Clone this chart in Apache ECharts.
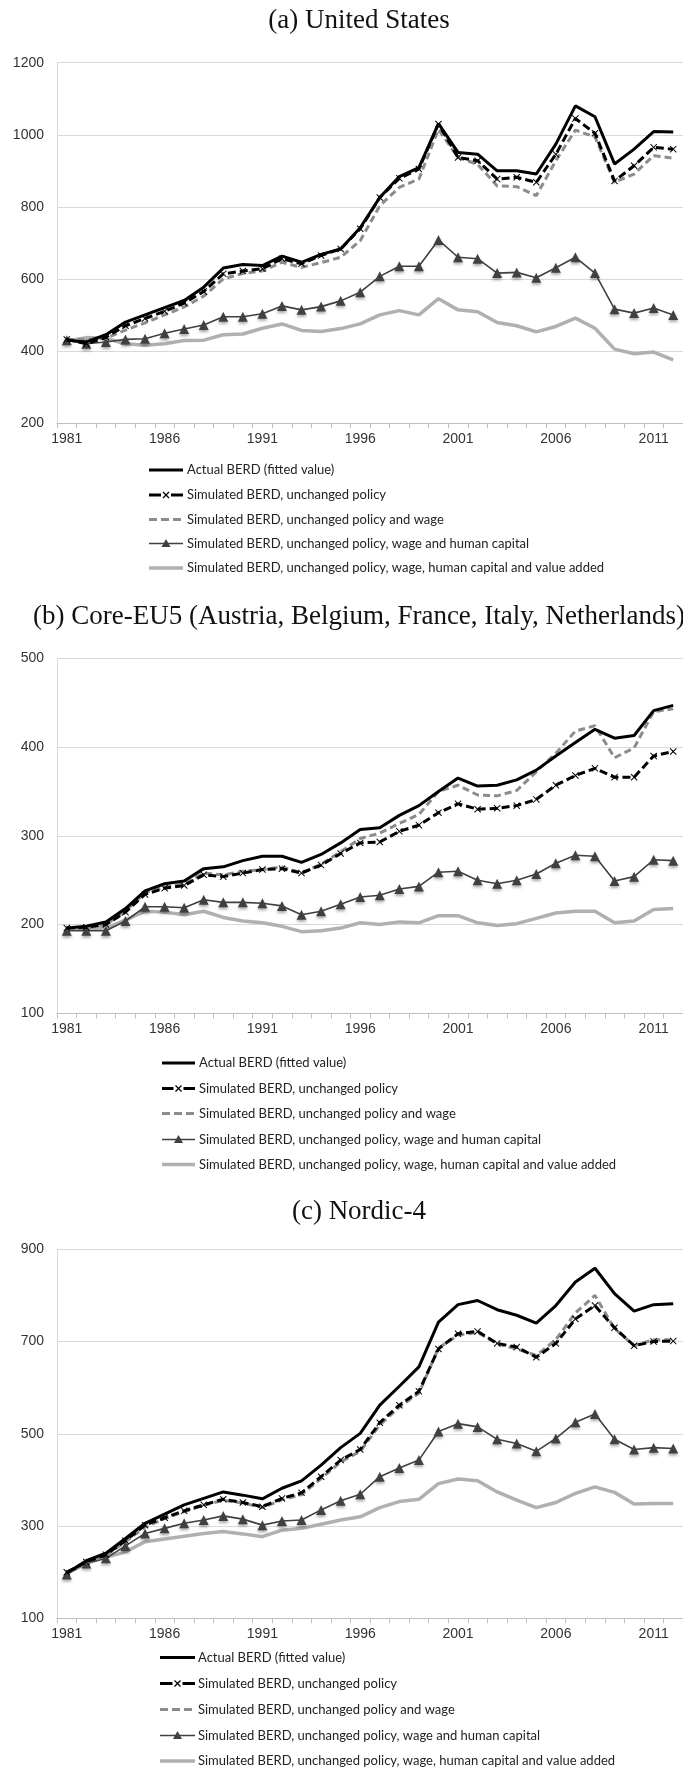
<!DOCTYPE html>
<html>
<head>
<meta charset="utf-8">
<script src="https://cdn.jsdelivr.net/npm/echarts@6/dist/echarts.min.js"></script>
<style>
html,body{margin:0;padding:0;background:#fff;overflow:hidden;}
#chart{width:683px;height:1769px;}
</style>
</head>
<body>
<div id="chart"></div>
<script>
const years = ['1981','1982','1983','1984','1985','1986','1987','1988','1989','1990','1991','1992','1993','1994','1995','1996','1997','1998','1999','2000','2001','2002','2003','2004','2005','2006','2007','2008','2009','2010','2011','2012'];

const seriesNames = [
  'Actual BERD (fitted value)',
  'Simulated BERD, unchanged policy',
  'Simulated BERD, unchanged policy and wage',
  'Simulated BERD, unchanged policy, wage and human capital',
  'Simulated BERD, unchanged policy, wage, human capital and value added'
];

const panelTitles = ['(a) United States', '(b) Core-EU5 (Austria, Belgium, France, Italy, Netherlands)', '(c) Nordic-4'];

// (a) United States
const usActual    = [430,425,445,480,500,520,540,577,630,640,637,663,646,668,683,742,826,884,909,1031,951,946,900,900,891,974,1080,1050,919,960,1009,1008];
const usUnchanged = [432,420,438,470,490,510,533,565,614,622,628,656,642,665,683,739,826,879,905,1030,937,928,877,882,868,946,1045,1004,872,914,965,960];
const usWage      = [432,432,435,458,478,500,522,552,600,615,622,646,632,645,660,706,803,854,877,1015,937,918,858,856,831,928,1013,994,868,891,942,935];
const usHuman     = [430,420,425,432,434,449,461,472,495,495,503,525,514,523,539,563,607,635,635,708,660,656,616,618,603,631,660,616,516,505,519,500];
const usVA        = [428,437,435,420,416,420,429,430,445,447,463,475,457,454,462,475,500,512,500,545,514,509,479,470,453,468,491,463,405,392,397,375];

// (b) Core-EU5
const euActual    = [196,198,203,218,238,246,249,263,265,272,277,277,270,279,292,307,309,323,334,350,365,356,357,363,374,390,405,420,410,413,441,447];
const euUnchanged = [196,197,200,214,234,241,244,256,254,258,262,263,258,267,280,292,293,305,312,326,336,330,331,334,341,357,368,376,366,366,390,395];
const euWage      = [195,196,200,215,236,242,246,258,256,260,262,265,258,268,282,297,303,314,324,350,357,346,345,351,372,393,418,424,388,399,440,443];
const euHuman     = [193,193,193,204,220,220,219,228,225,225,224,221,211,215,223,231,233,240,243,259,260,250,246,250,257,269,278,277,249,254,273,272];
const euVA        = [195,195,196,205,215,214,211,215,208,204,202,198,192,193,196,202,200,203,202,210,210,202,199,201,207,213,215,215,202,204,217,218];

// (c) Nordic-4
const noActual    = [198,225,241,273,306,326,346,360,374,367,359,382,398,432,470,501,562,603,645,742,780,789,769,757,740,778,829,859,804,766,780,782];
const noUnchanged = [200,222,238,268,302,318,333,346,358,351,342,360,372,407,443,466,524,562,592,684,717,722,696,688,666,696,749,778,730,691,700,701];
const noWage      = [198,220,236,266,298,316,331,345,356,350,340,357,368,403,439,462,519,558,588,686,714,720,695,684,670,704,762,800,728,691,704,704];
const noHuman     = [195,219,230,257,284,295,306,313,322,315,302,311,313,335,355,369,407,426,443,505,522,515,488,479,462,490,525,543,488,466,470,468];
const noVA        = [198,220,232,244,266,272,278,284,288,283,277,291,295,304,313,320,340,353,358,392,402,398,374,356,340,351,371,385,373,348,349,349];

const yMin = [200, 100, 100];
const yMax = [1200, 500, 900];
const yStep = [200, 100, 200];

const panels = [
  [usActual, usUnchanged, usWage, usHuman, usVA],
  [euActual, euUnchanged, euWage, euHuman, euVA],
  [noActual, noUnchanged, noWage, noHuman, noVA]
];

// layout
const gridTop = [62.7, 658.3, 1249.3];
const gridHeight = [360.3, 355, 369];
const titleY = [21, 617, 1212];
const legendX = [[149, 183, 187], [162, 195, 199], [160, 195, 198]];
const legendY = [[470, 495, 519.5, 543.5, 568], [1063, 1088.5, 1113.5, 1139.5, 1164.5], [1657.5, 1683.5, 1709.5, 1735.5, 1761]];

const X_PATH = 'path://M0,1L1,0L5,4L9,0L10,1L6,5L10,9L9,10L5,6L1,10L0,9L4,5Z';

const grids = [], xAxes = [], yAxes = [], series = [], graphics = [];

for (let p = 0; p < 3; p++) {
  grids.push({left: 57, width: 632, top: gridTop[p], height: gridHeight[p], containLabel: false});
  xAxes.push({
    type: 'category', gridIndex: p, data: years, boundaryGap: true,
    axisLine: {lineStyle: {color: '#bfbfbf', width: 1}},
    axisTick: {show: true, interval: 0, length: 5, lineStyle: {color: '#bfbfbf'}},
    axisLabel: {interval: 4, fontFamily: 'Liberation Sans', fontSize: 14, color: '#333', margin: 9},
    splitLine: {show: false}
  });
  yAxes.push({
    type: 'value', gridIndex: p, min: yMin[p], max: yMax[p], interval: yStep[p],
    axisLine: {show: true, lineStyle: {color: '#d9d9d9', width: 1}},
    axisTick: {show: false},
    axisLabel: {fontFamily: 'Liberation Sans', fontSize: 14, color: '#333', margin: 13, formatter: function (v) { return String(v); }},
    splitLine: {lineStyle: {color: '#d9d9d9', width: 1}}
  });
  const d = panels[p];
  // draw order: value added, human capital, wage, unchanged, actual
  series.push({
    name: seriesNames[4], type: 'line', xAxisIndex: p, yAxisIndex: p, data: d[4],
    symbol: 'none', lineStyle: {color: '#b0b0b0', width: 3.5}, z: 2
  });
  series.push({
    name: seriesNames[3], type: 'line', xAxisIndex: p, yAxisIndex: p, data: d[3],
    symbol: 'triangle', symbolSize: 10, showAllSymbol: true,
    lineStyle: {color: '#404040', width: 1.6},
    itemStyle: {color: '#404040', shadowBlur: 3, shadowColor: 'rgba(0,0,0,0.35)', shadowOffsetY: 2}, z: 3
  });
  series.push({
    name: seriesNames[2], type: 'line', xAxisIndex: p, yAxisIndex: p, data: d[2],
    symbol: 'none', lineStyle: {color: '#8c8c8c', width: 3, type: [7, 4]}, z: 4
  });
  series.push({
    name: seriesNames[1], type: 'line', xAxisIndex: p, yAxisIndex: p, data: d[1],
    symbol: X_PATH, symbolSize: 7, showAllSymbol: true,
    lineStyle: {color: '#000', width: 3, type: [8, 4]},
    itemStyle: {color: '#000'}, z: 5
  });
  series.push({
    name: seriesNames[0], type: 'line', xAxisIndex: p, yAxisIndex: p, data: d[0],
    symbol: 'none', lineStyle: {color: '#000', width: 3}, z: 6
  });

  // title
  graphics.push({
    type: 'text', x: 359, y: titleY[p],
    style: {text: panelTitles[p], font: '27px "Liberation Serif"', fill: '#111', textAlign: 'center', textVerticalAlign: 'middle'}
  });

  // legend
  const [x0, x1, tx] = legendX[p];
  const ys = legendY[p];
  const mid = (x0 + x1) / 2;
  // 0 actual
  graphics.push({type: 'line', shape: {x1: x0, y1: ys[0], x2: x1, y2: ys[0]}, style: {stroke: '#000', lineWidth: 3}});
  // 1 unchanged
  graphics.push({type: 'line', shape: {x1: x0, y1: ys[1], x2: mid - 5, y2: ys[1]}, style: {stroke: '#000', lineWidth: 3}});
  graphics.push({type: 'line', shape: {x1: mid + 5, y1: ys[1], x2: x1, y2: ys[1]}, style: {stroke: '#000', lineWidth: 3}});
  graphics.push({type: 'line', shape: {x1: mid - 3, y1: ys[1] - 3, x2: mid + 3, y2: ys[1] + 3}, style: {stroke: '#000', lineWidth: 1.2}});
  graphics.push({type: 'line', shape: {x1: mid - 3, y1: ys[1] + 3, x2: mid + 3, y2: ys[1] - 3}, style: {stroke: '#000', lineWidth: 1.2}});
  // 2 wage
  graphics.push({type: 'line', shape: {x1: x0, y1: ys[2], x2: x1, y2: ys[2]}, style: {stroke: '#8c8c8c', lineWidth: 3, lineDash: [8, 4]}});
  // 3 human capital
  graphics.push({type: 'line', shape: {x1: x0, y1: ys[3], x2: x1, y2: ys[3]}, style: {stroke: '#404040', lineWidth: 1.6}});
  graphics.push({type: 'polygon', shape: {points: [[mid, ys[3] - 4.5], [mid + 4.5, ys[3] + 3.5], [mid - 4.5, ys[3] + 3.5]]}, style: {fill: '#404040'}});
  // 4 value added
  graphics.push({type: 'line', shape: {x1: x0, y1: ys[4], x2: x1, y2: ys[4]}, style: {stroke: '#b0b0b0', lineWidth: 3.5}});
  for (let k = 0; k < 5; k++) {
    graphics.push({
      type: 'text', x: tx, y: ys[k],
      style: {text: seriesNames[k], font: '13px Lato', fill: '#222', textAlign: 'left', textVerticalAlign: 'middle'}
    });
  }
}

const chart = echarts.init(document.getElementById('chart'), null, {renderer: 'canvas'});
chart.setOption({
  animation: false,
  backgroundColor: '#fff',
  grid: grids,
  xAxis: xAxes,
  yAxis: yAxes,
  series: series,
  graphic: graphics
});
</script>
</body>
</html>
